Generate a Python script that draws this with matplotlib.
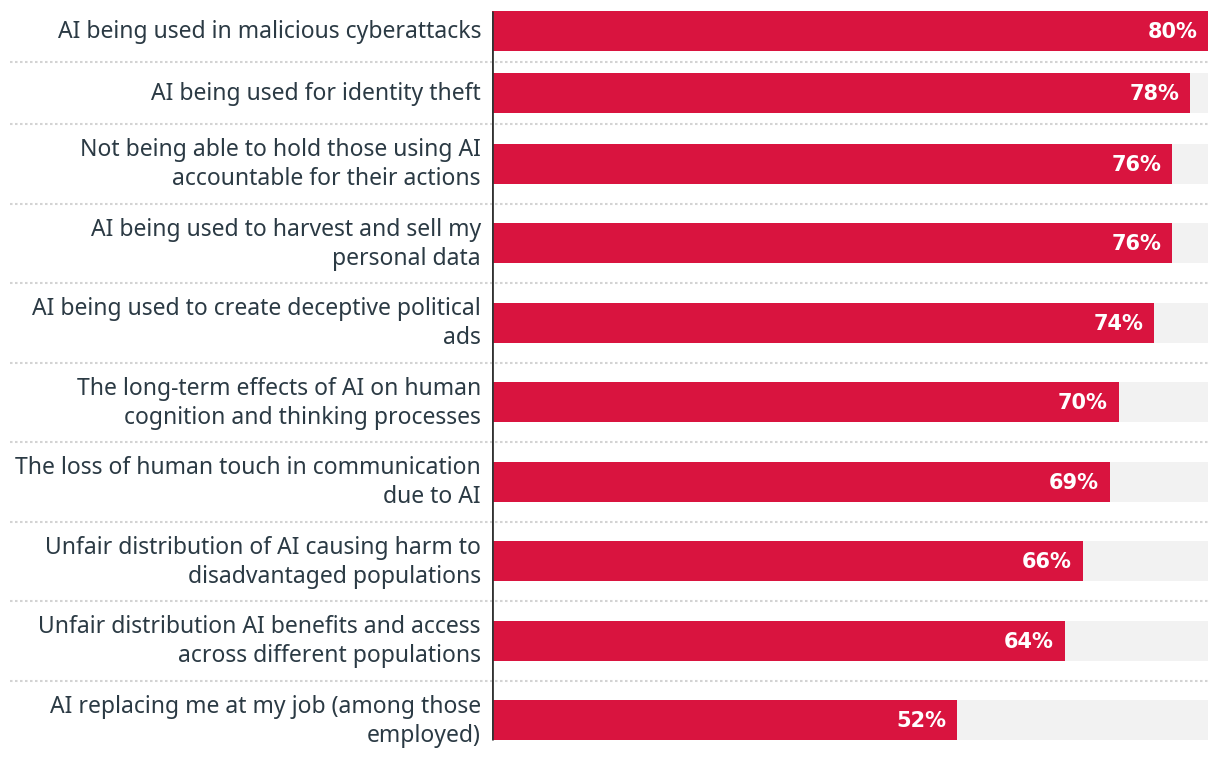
import matplotlib
matplotlib.use("Agg")
import matplotlib.pyplot as plt

categories = [
    "AI being used in malicious cyberattacks",
    "AI being used for identity theft",
    "Not being able to hold those using AI\naccountable for their actions",
    "AI being used to harvest and sell my\npersonal data",
    "AI being used to create deceptive political\nads",
    "The long-term effects of AI on human\ncognition and thinking processes",
    "The loss of human touch in communication\ndue to AI",
    "Unfair distribution of AI causing harm to\ndisadvantaged populations",
    "Unfair distribution AI benefits and access\nacross different populations",
    "AI replacing me at my job (among those\nemployed)",
]
values = [80, 78, 76, 76, 74, 70, 69, 66, 64, 52]
max_value = 80

RED = "#D9143F"
BG = "#F2F2F2"
TEXT = "#2B3A44"
SEP = "#D3D3D3"

plt.rcParams['font.family'] = ['Noto Sans', 'DejaVu Sans']

W, H = 1220, 760
fig = plt.figure(figsize=(W / 100, H / 100), dpi=100)
ax_left, ax_right = 492, 1208
ax = fig.add_axes([ax_left / W, 0, (ax_right - ax_left) / W, 1])
ax.set_xlim(0, max_value)
ax.set_ylim(H, 0)
ax.axis("off")

# row layout derived from number of label lines
h1, h2 = 62, 79.5
bar_h = 40
tops = []
y = 0
for c in categories:
    rh = h1 if c.count("\n") == 0 else h2
    tops.append((y, rh))
    y += rh

centers = [t + rh / 2 for t, rh in tops]

ax.barh(centers, [max_value] * len(values), height=bar_h, color=BG, zorder=1)
ax.barh(centers, values, height=bar_h, color=RED, zorder=2)

x_text_frac = (481 - ax_left) / (ax_right - ax_left)
for i, (c, v) in enumerate(zip(categories, values)):
    ax.text(v - 1.2, centers[i] + 1, f"{v}%", ha="right", va="center",
            color="white", fontsize=15, fontweight="bold",
            family=["DejaVu Sans"], zorder=3)
    ax.text(x_text_frac, centers[i] + 1, c, transform=ax.get_yaxis_transform(),
            ha="right", va="center", color=TEXT, fontsize=16.5,
            linespacing=1.3, multialignment="right")

# separators
xmin = (10 - ax_left) / (ax_right - ax_left)
for t, rh in tops[1:]:
    ax.axhline(t, xmin=xmin, xmax=1, color=SEP, lw=1.5,
               linestyle=(0, (1.2, 1.2)), clip_on=False, zorder=0)

# axis line
ax.plot([0, 0], [centers[0] - bar_h / 2, centers[-1] + bar_h / 2],
        color="#333333", lw=2, zorder=4, solid_capstyle="butt")

fig.savefig("out.png", dpi=100)
